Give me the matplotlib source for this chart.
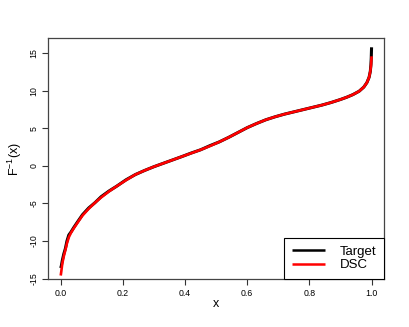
import matplotlib
matplotlib.use("Agg")
import matplotlib.pyplot as plt

plt.rcParams['font.family'] = ['Liberation Sans', 'DejaVu Sans']

probs = [0.0, 0.002, 0.005, 0.01, 0.015, 0.02, 0.026, 0.033, 0.042, 0.055, 0.07,
         0.09, 0.11, 0.13, 0.155, 0.18, 0.21, 0.24, 0.27, 0.30, 0.33, 0.36, 0.39,
         0.42, 0.45, 0.48, 0.51, 0.54, 0.57, 0.60, 0.63, 0.66, 0.69, 0.72, 0.75,
         0.78, 0.81, 0.84, 0.87, 0.90, 0.92, 0.94, 0.96, 0.975, 0.985, 0.992,
         0.996, 0.998, 0.999, 1.0]
target = [-13.6, -13.3, -12.6, -11.7, -11.0, -10.0, -9.2, -8.8, -8.2, -7.4, -6.5,
          -5.6, -4.9, -4.1, -3.35, -2.7, -1.85, -1.15, -0.6, -0.1, 0.35, 0.8, 1.25,
          1.72, 2.15, 2.7, 3.2, 3.8, 4.45, 5.1, 5.65, 6.15, 6.55, 6.9, 7.2,
          7.5, 7.8, 8.1, 8.45, 8.85, 9.15, 9.5, 9.95, 10.5, 11.1, 11.8,
          12.6, 13.5, 14.4, 15.8]
dsc = [-14.6, -14.0, -13.0, -12.0, -11.2, -10.3, -9.5, -8.9, -8.3, -7.5, -6.6,
       -5.7, -4.9, -4.2, -3.4, -2.7, -1.9, -1.15, -0.6, -0.1, 0.35, 0.8, 1.25,
       1.7, 2.15, 2.65, 3.2, 3.8, 4.45, 5.1, 5.65, 6.15, 6.55, 6.9, 7.2,
       7.5, 7.8, 8.1, 8.45, 8.85, 9.15, 9.5, 9.95, 10.5, 11.1, 11.8,
       12.6, 13.3, 13.9, 14.6]

xticks = [0.0, 0.2, 0.4, 0.6, 0.8, 1.0]
yticks = [-15, -10, -5, 0, 5, 10, 15]

fig = plt.figure(figsize=(4.09, 3.27), dpi=100)
ax = fig.add_axes([48.3/409, 1-279.3/327, (384-48.3)/409, (279.3-38.3)/327])

ax.plot(probs, target, color='black', lw=2.2, solid_capstyle='butt',
        solid_joinstyle='round', label='Target')
ax.plot(probs, dsc, color='#FF0000', lw=1.9, solid_capstyle='butt',
        solid_joinstyle='round', label='DSC')

ax.set_xlim(-0.04, 1.04)
ax.set_ylim(-15.1, 17.0)
ax.set_xticks(xticks)
ax.set_xticklabels([f"{t:.1f}" for t in xticks])
ax.set_yticks(yticks)
ax.set_yticklabels([str(t) for t in yticks], rotation=90, va='center')
ax.tick_params(labelsize=6.3, length=4, width=0.8, color='#333333', pad=3)
for s in ax.spines.values():
    s.set_color('#444444')
    s.set_linewidth(0.9)

ax.set_xlabel('x', fontsize=9, labelpad=0)
ax.set_ylabel(r'$\mathregular{F^{-1}(x)}$', fontsize=9, labelpad=4)

leg = ax.legend(loc='lower right', borderaxespad=0, fancybox=False, fontsize=9.5,
                handlelength=2.5, handletextpad=1.1, borderpad=0.6,
                labelspacing=0.1, framealpha=1)
leg.get_frame().set_edgecolor('black')
leg.get_frame().set_linewidth(0.8)
for h in leg.get_lines():
    h.set_linewidth(1.8)

fig.savefig('out.png', dpi=100)
